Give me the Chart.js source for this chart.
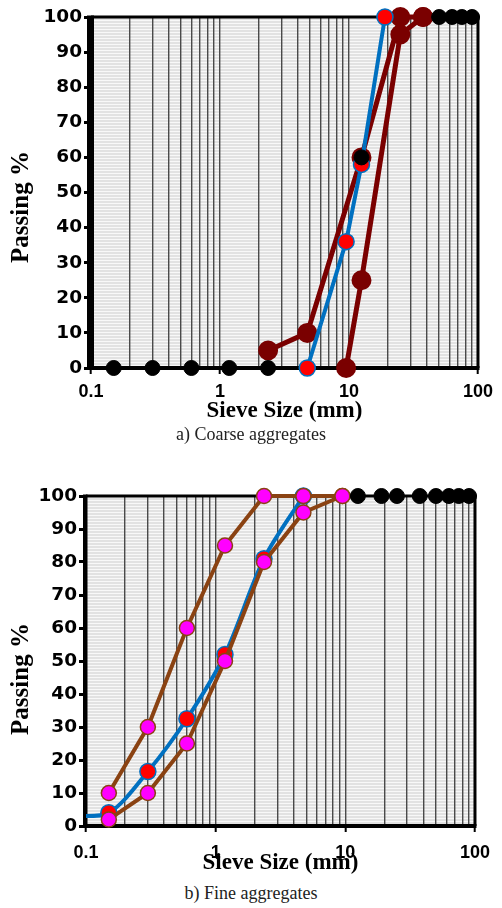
<!DOCTYPE html>
<html>
<head>
<meta charset="utf-8">
<script src="https://cdn.jsdelivr.net/npm/chart.js@4.4.0/dist/chart.umd.min.js"></script>
<style>
  body { margin: 0; background: #fff; width: 502px; height: 908px; position: relative; overflow: hidden; }
  canvas { position: absolute; left: 0; }
  #coarse { top: 0; }
  #fine { top: 450px; }
  .cap { position: absolute; left: 0; width: 502px; text-align: center; font-family: "Liberation Serif", serif; font-size: 18px; color: #222; line-height: 20px; }
</style>
</head>
<body>
<canvas id="coarse" width="502" height="425" style="width:502px;height:425px"></canvas>
<canvas id="fine" width="502" height="425" style="width:502px;height:425px"></canvas>
<div class="cap" style="top:424px">a) Coarse aggregates</div>
<div class="cap" style="top:883px">b) Fine aggregates</div>
<script>
// a) coarse aggregates
const coarseMarkSizes = [0.15, 0.3, 0.6, 1.18, 2.36, 12.5, 50, 63, 75, 90];
const coarseMarks = [0, 0, 0, 0, 0, 60, 100, 100, 100, 100];
const coarseSizes = [4.75, 9.5, 12.5, 19];
const coarsePassing = [0, 36, 58, 100];
const coarseUpperSizes = [2.36, 4.75, 12.5, 25, 37.5];
const coarseUpper = [5, 10, 60, 100, 100];
const coarseLowerSizes = [9.5, 12.5, 25, 37.5];
const coarseLower = [0, 25, 95, 100];

// b) fine aggregates
const fineMarkSizes = [12.5, 19, 25, 37.5, 50, 63, 75, 90];
const fineMarks = [100, 100, 100, 100, 100, 100, 100, 100];
const fineSizes = [0.075, 0.15, 0.3, 0.6, 1.18, 2.36, 4.75];
const finePassing = [3, 4, 16.5, 32.5, 52, 81, 100];
const fineLimitSizes = [0.15, 0.3, 0.6, 1.18, 2.36, 4.75, 9.5];
const fineUpper = [10, 30, 60, 85, 100, 100, 100];
const fineLower = [2, 10, 25, 50, 80, 95, 100];

const xTickLabels = [0.1, 1, 10, 100];
const xTitle = 'Sieve Size (mm)';
const yTitle = 'Passing %';
const gridVals = [];
[0.1, 1, 10].forEach(d => { for (let k = 1; k <= 9; k++) gridVals.push(+(k * d).toPrecision(3)); });
gridVals.push(100);

const pts = (xs, ys) => xs.map((x, i) => ({ x: x, y: ys[i] }));

function stripes(ctx) {
  const p = document.createElement('canvas');
  p.width = 4; p.height = 3;
  const g = p.getContext('2d');
  g.fillStyle = '#e2e2e2'; g.fillRect(0, 0, 4, 3);
  g.fillStyle = '#f8f8f8'; g.fillRect(0, 2, 4, 1);
  return ctx.createPattern(p, 'repeat');
}

const frame = {
  id: 'frame',
  beforeDraw(chart) {
    const { ctx, chartArea: a } = chart;
    ctx.save();
    ctx.fillStyle = stripes(ctx);
    ctx.fillRect(a.left, a.top, a.width, a.height);
    ctx.restore();
  },
  beforeDatasetsDraw(chart, args, opts) {
    const { ctx, chartArea: a } = chart;
    ctx.save();
    ctx.strokeStyle = '#000';
    ctx.lineWidth = 3;
    ctx.beginPath();
    ctx.moveTo(a.left, a.top); ctx.lineTo(a.right, a.top); ctx.lineTo(a.right, a.bottom);
    ctx.stroke();
    ctx.lineWidth = 4;
    ctx.beginPath();
    ctx.moveTo(a.left, a.bottom); ctx.lineTo(a.right + 1.5, a.bottom);
    ctx.stroke();
    ctx.fillStyle = '#000';
    ctx.fillRect(a.left - opts.barL, a.top - 1.5, opts.barL + opts.barR, a.height + 3.5);
    // y axis title
    ctx.translate(opts.titleX, opts.titleY);
    ctx.rotate(-Math.PI / 2);
    ctx.font = 'bold 25px "Liberation Serif"';
    ctx.textAlign = 'center';
    ctx.textBaseline = 'middle';
    ctx.fillText(yTitle, 0, 0);
    ctx.restore();
  }
};

function build(id, area, lab, datasets) {
  return new Chart(document.getElementById(id), {
    type: 'line',
    data: { datasets: datasets },
    plugins: [frame],
    options: {
      responsive: false,
      animation: false,
      layout: { padding: { left: 0, top: area.top, right: 502 - area.right, bottom: 0 } },
      plugins: {
        legend: { display: false },
        tooltip: { enabled: false },
        frame: { barL: lab.barL, barR: lab.barR, titleX: 22, titleY: lab.yTitleY }
      },
      scales: {
        x: {
          type: 'logarithmic',
          min: 0.1,
          max: 100,
          afterBuildTicks: s => { s.ticks = gridVals.map(v => ({ value: v })); },
          afterFit: s => { s.height = 425 - area.bottom; },
          border: { display: false },
          grid: {
            color: '#4a4a4a',
            lineWidth: 1.4,
            tickLength: 6,
            tickWidth: 2,
            tickColor: c => (c.tick && xTickLabels.includes(c.tick.value)) ? '#000' : 'rgba(0,0,0,0)'
          },
          ticks: {
            autoSkip: false,
            maxRotation: 0,
            padding: lab.xPad,
            color: '#000',
            font: { family: 'Liberation Sans', weight: 'bold', size: 18, lineHeight: 1 },
            callback: v => xTickLabels.includes(v) ? String(v) : ''
          },
          title: {
            display: true,
            text: xTitle,
            color: '#000',
            font: { family: 'Liberation Serif', weight: 'bold', size: 23, lineHeight: 1 },
            padding: { top: 0, bottom: lab.titlePad }
          }
        },
        y: {
          min: 0,
          max: 100,
          afterFit: s => { s.width = area.left; },
          border: { display: false },
          grid: { drawOnChartArea: false, tickLength: 7, lineWidth: 3, color: '#000' },
          ticks: {
            stepSize: 10,
            padding: 2,
            color: '#000',
            font: { family: 'DejaVu Sans', weight: 'bold', size: 18.5 }
          },
          title: { display: false }
        }
      }
    }
  });
}

const maroon = '#7A0000';
const blue = '#0070C0';
const brown = '#8A4212';

build('coarse', { left: 91, top: 17, right: 484, bottom: 368 },
  { xPad: 9, titlePad: 2.5, barL: 4, barR: 3, yTitleY: 207 }, [
  { data: pts(coarseMarkSizes, coarseMarks), showLine: false, pointRadius: 7.5,
    pointBackgroundColor: '#000', pointBorderColor: '#000', clip: false },
  { data: pts(coarseSizes, coarsePassing), borderColor: blue, borderWidth: 4, pointRadius: 8,
    pointBackgroundColor: '#FF0000', pointBorderColor: blue, pointBorderWidth: 1.5, clip: false },
  { data: pts(coarseUpperSizes, coarseUpper), borderColor: maroon, borderWidth: 5, pointRadius: 7.5,
    pointBackgroundColor: maroon, pointBorderColor: maroon, clip: false },
  { data: pts(coarseLowerSizes, coarseLower), borderColor: maroon, borderWidth: 5, pointRadius: 7.5,
    pointBackgroundColor: maroon, pointBorderColor: maroon, clip: false }
]);

build('fine', { left: 86, top: 46, right: 484, bottom: 376 },
  { xPad: 12, titlePad: 0.5, barL: 3, barR: 1.5, yTitleY: 229 }, [
  { data: pts(fineMarkSizes, fineMarks), showLine: false, pointRadius: 7.5,
    pointBackgroundColor: '#000', pointBorderColor: '#000', clip: false },
  { data: pts(fineLimitSizes, fineUpper), borderColor: brown, borderWidth: 4, pointRadius: 7.5,
    pointBackgroundColor: '#FF00FF', pointBorderColor: brown, pointBorderWidth: 1.5, clip: false },
  { data: pts(fineLimitSizes, fineLower), borderColor: brown, borderWidth: 4, pointRadius: 7.5,
    pointBackgroundColor: '#FF00FF', pointBorderColor: brown, pointBorderWidth: 1.5, clip: false },
  { data: pts(fineSizes, finePassing), borderColor: blue, borderWidth: 4, tension: 0.3, pointRadius: 8,
    pointBackgroundColor: '#FF0000', pointBorderColor: blue, pointBorderWidth: 1.5,
    clip: { left: 0, top: 20, right: 20, bottom: 20 } }
]);
</script>
</body>
</html>
